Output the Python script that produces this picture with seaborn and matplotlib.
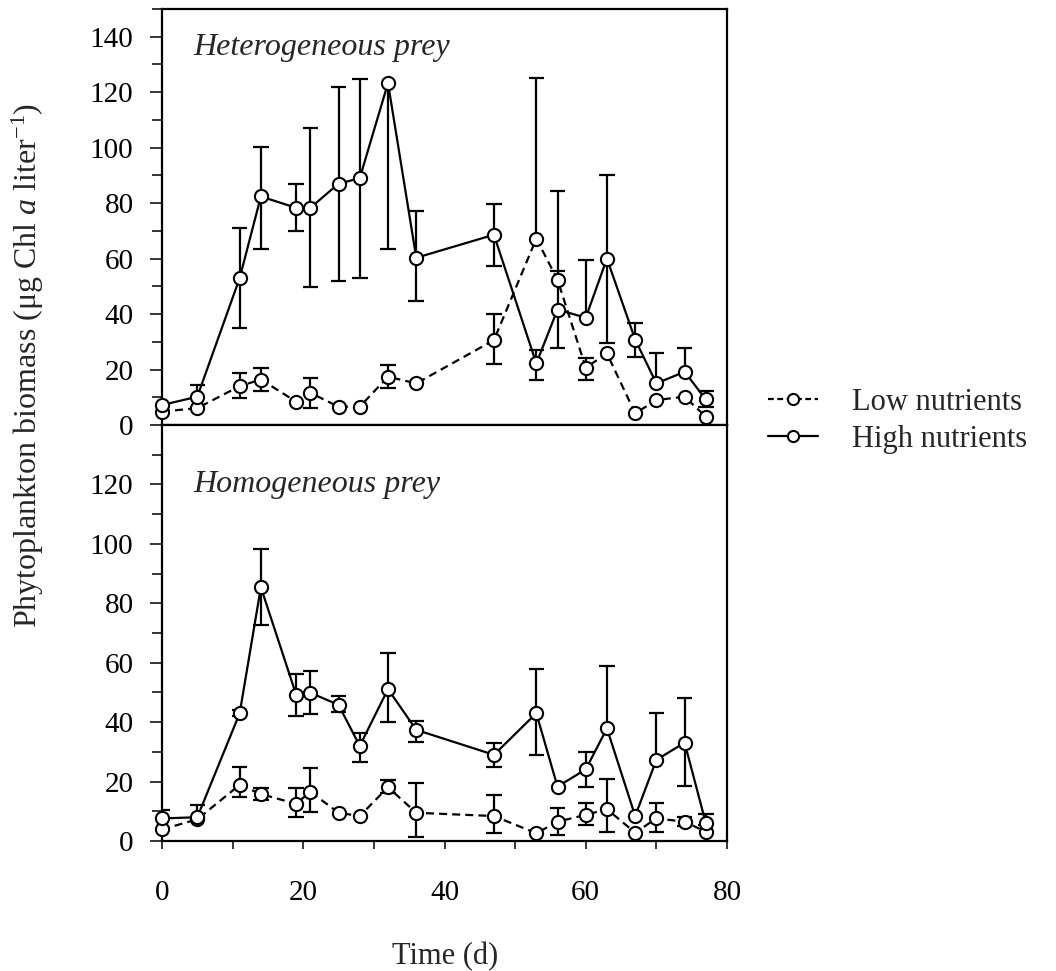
import numpy as np
import pandas as pd
import matplotlib
matplotlib.use("Agg")
import matplotlib.pyplot as plt
from matplotlib.lines import Line2D
from matplotlib.ticker import MultipleLocator
import seaborn as sns

# ---------------- data ----------------
days = [0, 5, 11, 14, 19, 21, 25, 28, 32, 36, 47, 53, 56, 60, 63, 67, 70, 74, 77]

# Heterogeneous prey
het_low = [4.8, 6.1, 14.0, 16.4, 8.4, 11.6, 6.6, 6.6, 17.4, 15.0,
           30.6, 67.2, 52.4, 20.7, 25.8, 4.2, 9.0, 10.2, 3.0]
het_low_hi = [np.nan, np.nan, 18.7, 20.7, np.nan, 17.1, np.nan, np.nan, 21.6, np.nan,
              39.9, 125.0, 84.5, 24.0, np.nan, np.nan, np.nan, np.nan, np.nan]
het_low_lo = [np.nan, np.nan, 9.6, 12.3, np.nan, 6.0, np.nan, np.nan, 13.2, np.nan,
              21.9, np.nan, np.nan, 16.4, np.nan, np.nan, np.nan, np.nan, np.nan]

het_high = [7.2, 10.2, 53.0, 82.4, 78.3, 78.3, 87.0, 89.0, 123.3, 60.3,
            68.6, 22.2, 41.6, 38.7, 60.0, 30.8, 15.0, 19.2, 9.2]
het_high_hi = [np.nan, 14.4, 71.1, 100.1, 87.0, 107.0, 122.0, 124.7, np.nan, 77.1,
               79.7, 27.0, 55.4, 59.6, 90.3, 36.6, 26.0, 27.9, 12.3]
het_high_lo = [np.nan, np.nan, 35.1, 63.6, 69.8, 49.8, 51.8, 53.1, 63.3, 44.7,
               57.2, 16.4, 27.8, np.nan, 29.4, 24.4, np.nan, np.nan, 6.6]

# Homogeneous prey
hom_low = [3.9, 7.3, 18.9, 15.8, 12.5, 16.6, 9.5, 8.4, 18.1, 9.5,
           8.4, 2.6, 6.5, 8.8, 10.7, 2.8, 7.6, 6.5, 3.1]
hom_low_hi = [np.nan, np.nan, 25.0, 17.8, 17.7, 24.5, np.nan, np.nan, 20.5, 19.4,
              15.5, np.nan, 11.0, 12.9, 20.8, np.nan, 12.9, 8.0, 5.5]
hom_low_lo = [np.nan, np.nan, 14.7, 13.8, 8.2, 9.9, np.nan, np.nan, 16.0, 1.4,
              2.8, np.nan, 2.0, 5.4, 3.1, np.nan, 3.1, 5.0, np.nan]

hom_high = [7.6, 8.0, 43.0, 85.4, 49.2, 49.9, 45.8, 32.0, 51.1, 37.4,
            29.0, 43.0, 18.3, 24.1, 37.9, 8.4, 27.3, 33.1, 6.0]
hom_high_hi = [10.4, 12.1, 44.0, 98.2, 56.2, 57.3, 48.8, 36.3, 63.4, 40.5,
               32.9, 57.8, np.nan, 30.1, 58.9, np.nan, 43.0, 48.0, 9.1]
hom_high_lo = [np.nan, np.nan, 42.0, 72.7, 42.1, 42.7, 43.5, 26.7, 40.2, 33.4,
               25.0, 29.0, np.nan, 18.3, np.nan, np.nan, np.nan, 18.5, np.nan]

series_labels = ["Low nutrients", "High nutrients"]
panel_titles = ["Heterogeneous prey", "Homogeneous prey"]
x_ticks = [0, 10, 20, 30, 40, 50, 60, 70, 80]
x_ticklabels = ["0", "", "20", "", "40", "", "60", "", "80"]

# ---------------- style ----------------
sns.set_theme(style="ticks")
plt.rcParams["font.family"] = ["Liberation Serif", "DejaVu Serif"]
plt.rcParams["mathtext.fontset"] = "custom"
plt.rcParams["mathtext.rm"] = "Liberation Serif"
plt.rcParams["mathtext.it"] = "Liberation Serif:italic"

LW = 1.6
SPINE_W = 1.6
TICK_FS = 21

fig = plt.figure(figsize=(10.56, 9.71), dpi=100)
W, H = 1056, 971
ax_top = fig.add_axes([162 / W, 1 - 425 / H, 565 / W, 416 / H])
ax_bot = fig.add_axes([162 / W, 1 - 841 / H, 565 / W, 416 / H])

panels = [
    (ax_top, het_low, het_low_lo, het_low_hi, het_high, het_high_lo, het_high_hi),
    (ax_bot, hom_low, hom_low_lo, hom_low_hi, hom_high, hom_high_lo, hom_high_hi),
]

cap_half = 1.1  # half width of error-bar caps, in days
dash_pattern = (3.6, 2.3)

for ax, lo_v, lo_lo, lo_hi, hi_v, hi_lo, hi_hi in panels:
    df = pd.DataFrame({
        "day": days * 2,
        "value": list(lo_v) + list(hi_v),
        "nutrients": [series_labels[0]] * len(days) + [series_labels[1]] * len(days),
    })

    # error bars (drawn below the lines and markers)
    for vals, los, his in [(lo_v, lo_lo, lo_hi), (hi_v, hi_lo, hi_hi)]:
        for d, v, lo, hi in zip(days, vals, los, his):
            for end in (lo, hi):
                if not np.isnan(end):
                    ax.vlines(d, min(v, end), max(v, end), color="black",
                              linewidth=LW, zorder=1)
                    ax.hlines(end, d - cap_half, d + cap_half, color="black",
                              linewidth=LW, zorder=1)

    sns.lineplot(
        data=df, x="day", y="value", style="nutrients",
        style_order=series_labels,
        dashes={series_labels[0]: dash_pattern, series_labels[1]: ""},
        markers={series_labels[0]: "o", series_labels[1]: "o"},
        color="black", linewidth=LW, markersize=9.5,
        markerfacecolor="white", markeredgecolor="black", markeredgewidth=1.5,
        errorbar=None, legend=False, ax=ax, zorder=3, clip_on=False,
    )

    ax.set_xlim(0, 80)
    ax.set_xticks(x_ticks)
    ax.set_xlabel("")
    ax.set_ylabel("")
    for side in ["top", "right", "left", "bottom"]:
        ax.spines[side].set_visible(True)
        ax.spines[side].set_linewidth(SPINE_W)
        ax.spines[side].set_color("black")
    ax.tick_params(axis="y", which="major", direction="out", length=8.5,
                   width=1.1, pad=12, labelsize=TICK_FS, colors="black")
    ax.tick_params(axis="y", which="minor", direction="out", length=7,
                   width=1.1, colors="black")
    ax.tick_params(axis="x", which="major", direction="out", length=6,
                   width=1.1, pad=22, labelsize=TICK_FS, colors="black")
    ax.set_facecolor("white")

# top panel axes
ax_top.set_ylim(0, 150)
ax_top.set_yticks(range(0, 141, 20))
ax_top.yaxis.set_minor_locator(MultipleLocator(10))
ax_top.set_xticklabels([])

# bottom panel axes
ax_bot.set_ylim(0, 140)
ax_bot.set_yticks(range(0, 121, 20))
ax_bot.set_yticks(range(10, 140, 20), minor=True)
ax_bot.set_xticklabels(x_ticklabels)

# panel titles
ax_top.text(0.055, 0.889, panel_titles[0], transform=ax_top.transAxes,
            fontsize=23, style="italic", ha="left", va="baseline")
ax_bot.text(0.055, 0.84, panel_titles[1], transform=ax_bot.transAxes,
            fontsize=23, style="italic", ha="left", va="baseline")

# axis labels
fig.text(28 / W, 1 - 365 / H,
         r"Phytoplankton biomass (μg Chl $\mathit{a}$ liter$^{\mathrm{-1}}$)",
         rotation=90, ha="center", va="center", fontsize=23)
fig.text(445 / W, 1 - 964 / H, "Time (d)", ha="center", va="baseline",
         fontsize=22)

# legend
handles = [
    Line2D([], [], color="black", linewidth=LW, dashes=(2.6, 1.6), marker="o",
           markersize=8, markerfacecolor="white", markeredgecolor="black",
           markeredgewidth=1.5),
    Line2D([], [], color="black", linewidth=LW, marker="o",
           markersize=8, markerfacecolor="white", markeredgecolor="black",
           markeredgewidth=1.5),
]
fig.legend(handles, series_labels, loc="center left",
           bbox_to_anchor=(768 / W, 1 - 421 / H), frameon=False,
           fontsize=22, handlelength=1.65, handletextpad=1.1,
           labelspacing=0.25, borderpad=0, borderaxespad=0)

fig.savefig("out.png", dpi=100, facecolor="white")
